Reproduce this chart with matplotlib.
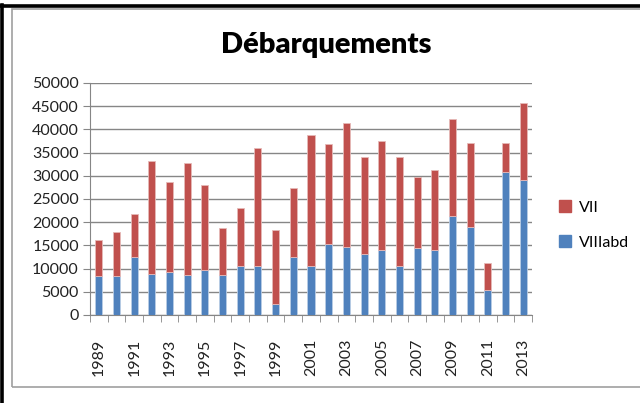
import matplotlib
matplotlib.use("Agg")
import matplotlib.pyplot as plt
from matplotlib.patches import Rectangle, Patch
from matplotlib.lines import Line2D
import numpy as np

years = list(range(1989, 2014))
viiiabd = [8500, 8300, 12500, 8900, 9200, 8600, 9700, 8600, 10600, 10600, 2400,
           12450, 10500, 15300, 14750, 13100, 13950, 10600, 14450, 13950, 21300,
           18900, 5400, 30850, 29150]
totals = [16200, 17900, 21800, 33200, 28650, 32850, 28100, 18700, 23000, 36000, 18400,
          27400, 38700, 36850, 41300, 33950, 37600, 33950, 29700, 31150, 42150,
          37100, 11100, 37100, 45600]
vii = [t - b for t, b in zip(totals, viiiabd)]

RED = "#C0504D"
BLUE = "#4F81BD"
GRID = "#868686"

W, H = 640, 403
fig = plt.figure(figsize=(6.4, 4.03), dpi=100)
fig.patch.set_facecolor("white")

def fx(px):
    return px / W

def fy(py):
    return 1 - py / H

# outer frames
fig.add_artist(Rectangle((fx(12), fy(387)), fx(700) - fx(12), fy(9) - fy(387),
                         transform=fig.transFigure, fill=False, edgecolor="#A0A0A0", lw=1.2))
fig.add_artist(Line2D([fx(1.5), fx(1.5)], [0, fy(5)], transform=fig.transFigure, color="black", lw=2.6))
fig.add_artist(Line2D([0, 1], [fy(6), fy(6)], transform=fig.transFigure, color="black", lw=2.6))

ax = fig.add_axes([fx(90), fy(315), fx(532) - fx(90), fy(83) - fy(315)])
x = np.arange(len(years))
bw = 0.4
ax.bar(x, viiiabd, bw, color=BLUE, edgecolor="#B9CDE5", linewidth=0.6, zorder=3)
ax.bar(x, vii, bw, bottom=viiiabd, color=RED, edgecolor="#E6B9B8", linewidth=0.6, zorder=3)

ax.set_xlim(-0.5, len(years) - 0.5)
ax.set_ylim(0, 50000)
ax.set_yticks(np.arange(0, 50001, 5000))
ax.yaxis.grid(True, color=GRID, lw=1.0, zorder=0)
ax.set_axisbelow(True)

ax.set_xticks(x[::2])
ax.set_xticklabels([str(y) for y in years[::2]], rotation=90)
ax.set_xticks(np.arange(-0.5, len(years), 1.0), minor=True)
ax.tick_params(axis="x", which="major", length=0, pad=17)
ax.tick_params(axis="x", which="minor", length=5, color=GRID, direction="out")
ax.tick_params(axis="y", length=5, color=GRID, direction="out", pad=3)

for lab in ax.get_xticklabels() + ax.get_yticklabels():
    lab.set_fontfamily(["Lato", "DejaVu Sans"])
    lab.set_fontsize(11.5)
    lab.set_color("#222222")

for s in ["top", "right"]:
    ax.spines[s].set_visible(False)
ax.spines["left"].set_color(GRID)
ax.spines["bottom"].set_color(GRID)

fig.text(fx(326), fy(45), "Débarquements", ha="center", va="center",
         fontsize=21, fontweight="heavy", family=["Lato", "DejaVu Sans"])

handles = [Patch(facecolor=RED, edgecolor=RED), Patch(facecolor=BLUE, edgecolor=BLUE)]
fig.legend(handles, ["VII", "VIIIabd"], loc="center left",
           bbox_to_anchor=(fx(545), fy(225)), frameon=False,
           prop={"family": ["Lato", "DejaVu Sans"], "size": 11.5},
           handlelength=0.7, handleheight=0.7, handletextpad=0.5, labelspacing=1.3)

fig.savefig("out.png", dpi=100)
